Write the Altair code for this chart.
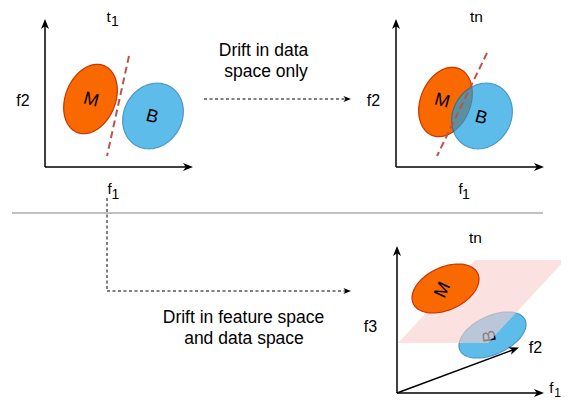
import numpy as np
import pandas as pd
import altair as alt

FONT = "Liberation Sans"
ORANGE, ORANGE_EDGE = "#fa6800", "#c73500"
BLUE, BLUE_EDGE = "#1ba1e2", "#006eaf"
PINK = "#f8cecc"
RED_DASH = "#b85450"

# ---- ellipses (page-pixel geometry) ----
ell_name = ["p1_orange", "p2_orange", "p1_blue", "p2_blue", "p3_blue", "p3_orange"]
ell_cx = [90.5, 445.5, 153.0, 482.0, 492.5, 445.5]
ell_cy = [99.0, 102.0, 116.0, 116.0, 335.0, 288.5]
ell_a = [36.0, 36.0, 34.0, 34.0, 35.9, 35.6]
ell_b = [25.0, 25.0, 29.0, 29.0, 19.1, 21.3]
ell_tilt = [22, 22, 30, 30, 65, 65]
ell_fill = [ORANGE, ORANGE, BLUE, BLUE, BLUE, ORANGE]
ell_edge = [ORANGE_EDGE, ORANGE_EDGE, BLUE_EDGE, BLUE_EDGE, BLUE_EDGE, ORANGE_EDGE]
ell_opacity = [1.0, 1.0, 0.7, 0.7, 0.7, 1.0]
ell_group = [1, 1, 1, 1, 1, 3]

# ---- plane (parallelogram) ----
plane_x = [475, 565, 488, 398]
plane_y = [260, 260, 343, 343]

# ---- lines ----
axis_x1 = [45, 45, 396, 396, 397, 397, 397]
axis_y1 = [167, 167, 167, 167, 393, 393, 393]
axis_x2 = [45, 188, 396, 539, 397, 539, 514]
axis_y2 = [24, 167, 24, 167, 251, 393, 349.5]

dot_x1 = [204, 107, 107]
dot_y1 = [99, 198, 291]
dot_x2 = [347, 107, 347]
dot_y2 = [99, 291, 291]

red_x1 = [129, 487]
red_y1 = [56, 53]
red_x2 = [107, 437]
red_y2 = [156, 156]

sep_x1, sep_y1, sep_x2, sep_y2 = [12], [213], [543], [213]

# ---- arrow heads ----
head_x = [45, 193, 396, 544, 397, 544, 519, 351, 351]
head_y = [19, 167, 19, 167, 246, 393, 347.5, 99, 291]
head_ang = [270, 0, 270, 0, 270, 0, 339.6, 0, 0]
head_r = [5, 5, 5, 5, 5, 5, 5, 3.8, 3.8]

# ---- texts (baseline alphabetic) ----
lab_text = ["t", "1", "f2", "f", "1", "tn", "f2", "f", "1",
            "Drift in data", "space only", "Drift in feature space", "and data space",
            "f3", "tn", "f2", "f", "1"]
lab_x = [108.5, 115, 23, 109.5, 115.5, 476.5, 373.5, 460.5, 466,
         263.5, 266, 243.5, 244, 370.5, 475.5, 535.5, 551.3, 557.6]
lab_y = [22, 25.5, 106, 194, 199, 22, 106, 194, 199,
         56, 77, 323, 344, 332, 243, 353, 393, 396.5]
lab_size = [15, 14, 16, 15, 14, 15.5, 16, 15, 14,
            17.5, 17.5, 17.5, 17.5, 16, 15.5, 16, 15, 12]

# ---- letters inside the ellipses (baseline middle) ----
let_text = ["M", "B", "M", "B", "M"]
let_x = [91, 152, 442, 481, 443]
let_y = [100, 117, 101, 118, 290]
let_ang = [15, 15, 15, 15, 295]

b3_text, b3_x, b3_y, b3_ang = ["B"], [490], [336], [260]

XS = alt.Scale(domain=[8, 561], nice=False, zero=False)
YS = alt.Scale(domain=[399, 8], nice=False, zero=False)


def X(f):
    return alt.X(f, type="quantitative", scale=XS, axis=None)


def Y(f):
    return alt.Y(f, type="quantitative", scale=YS, axis=None)


def poly_path(ux, uy):
    pts = [f"{a:.4f},{b:.4f}" for a, b in zip(ux, uy)]
    return "M" + "L".join(pts) + "Z"


rows = []
t = np.linspace(0, 2 * np.pi, 97)[:-1]
for i in range(len(ell_name)):
    ratio = ell_b[i] / ell_a[i]
    path = poly_path(ratio * np.cos(t), np.sin(t))
    rows.append(dict(x=ell_cx[i], y=ell_cy[i], path=path, size=(2 * ell_a[i]) ** 2,
                     angle=ell_tilt[i], fill=ell_fill[i], stroke=ell_edge[i],
                     sw=1.2, op=ell_opacity[i], grp=ell_group[i], ord=i))
pcx, pcy = np.mean(plane_x), np.mean(plane_y)
R = 50.0
rows.append(dict(x=pcx, y=pcy,
                 path=poly_path((np.array(plane_x) - pcx) / R, (np.array(plane_y) - pcy) / R),
                 size=(2 * R) ** 2, angle=0, fill=PINK, stroke=PINK, sw=0, op=0.6, grp=3, ord=-1))
shapes = pd.DataFrame(rows)

ARROW = "M1,0L-1,-0.8L-0.45,0L-1,0.8Z"
hd = []
for i in range(len(head_x)):
    th = np.deg2rad(head_ang[i])
    hd.append(dict(x=head_x[i] - head_r[i] * np.cos(th), y=head_y[i] - head_r[i] * np.sin(th),
                   angle=head_ang[i], size=(2 * head_r[i]) ** 2, path=ARROW))
heads = pd.DataFrame(hd)


def shape_layer(df):
    return alt.Chart(df).mark_point(filled=True).encode(
        x=X("x"), y=Y("y"),
        shape=alt.Shape("path:N", scale=None),
        size=alt.Size("size:Q", scale=None),
        angle=alt.Angle("angle:Q", scale=None),
        fill=alt.Fill("fill:N", scale=None),
        stroke=alt.Stroke("stroke:N", scale=None),
        strokeWidth=alt.StrokeWidth("sw:Q", scale=None),
        opacity=alt.Opacity("op:Q", scale=None),
        order=alt.Order("ord:Q"),
    )


def rule_layer(x1, y1, x2, y2, **kw):
    df = pd.DataFrame(dict(x=x1, y=y1, x2=x2, y2=y2))
    return alt.Chart(df).mark_rule(**kw).encode(
        x=X("x"), y=Y("y"), x2=alt.X2("x2"), y2=alt.Y2("y2"))


low_shapes = shape_layer(shapes[shapes.grp == 1])
high_shapes = shape_layer(shapes[shapes.grp == 3])

b3 = alt.Chart(pd.DataFrame(dict(t=b3_text, x=b3_x, y=b3_y, a=b3_ang))).mark_text(
    font=FONT, fontSize=18, align="center", baseline="middle", color="#000000").encode(
    x=X("x"), y=Y("y"), text="t:N", angle=alt.Angle("a:Q", scale=None))

letters = alt.Chart(pd.DataFrame(dict(t=let_text, x=let_x, y=let_y, a=let_ang))).mark_text(
    font=FONT, fontSize=18, align="center", baseline="middle", color="#000000").encode(
    x=X("x"), y=Y("y"), text="t:N", angle=alt.Angle("a:Q", scale=None))

labels = alt.Chart(pd.DataFrame(dict(t=lab_text, x=lab_x, y=lab_y, s=lab_size))).mark_text(
    font=FONT, align="center", baseline="alphabetic", color="#000000").encode(
    x=X("x"), y=Y("y"), text="t:N", size=alt.Size("s:Q", scale=None))

sep = rule_layer(sep_x1, sep_y1, sep_x2, sep_y2, color="#808080", strokeWidth=1)
axes = rule_layer(axis_x1, axis_y1, axis_x2, axis_y2, color="#000000", strokeWidth=1.5)
dots = rule_layer(dot_x1, dot_y1, dot_x2, dot_y2, color="#000000", strokeWidth=1,
                  strokeDash=[3, 2.5])
reds = rule_layer(red_x1, red_y1, red_x2, red_y2, color=RED_DASH, strokeWidth=2,
                  strokeDash=[7, 4])

arrowheads = alt.Chart(heads).mark_point(filled=True, color="#000000", opacity=1,
                                         strokeWidth=0).encode(
    x=X("x"), y=Y("y"),
    shape=alt.Shape("path:N", scale=None),
    size=alt.Size("size:Q", scale=None),
    angle=alt.Angle("angle:Q", scale=None),
)

chart = alt.layer(
    sep, low_shapes, b3, high_shapes, letters, labels, axes, dots, reds, arrowheads
).properties(
    width=553, height=391, padding=0,
    autosize=alt.AutoSizeParams(type="none"),
    background="white",
).configure_view(strokeWidth=0)

chart.save("out.html", embed_options={"renderer": "svg", "actions": False})
